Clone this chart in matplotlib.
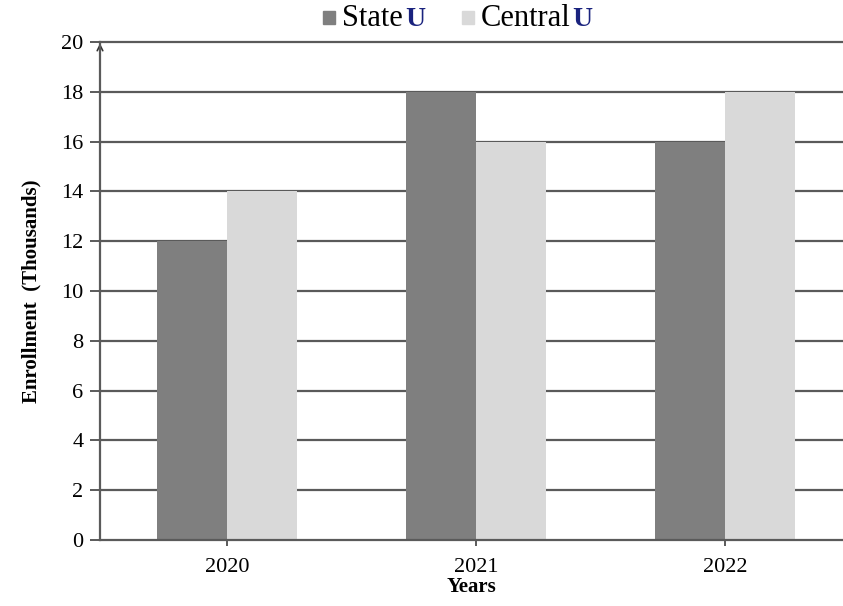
import matplotlib.pyplot as plt
import numpy as np
from matplotlib.patches import Rectangle

plt.rcParams['font.family'] = ['Liberation Serif', 'DejaVu Serif']

years = ['2020', '2021', '2022']
state_u = [12, 18, 16]
central_u = [14, 16, 18]
y_ticks = [0, 2, 4, 6, 8, 10, 12, 14, 16, 18, 20]

dark = '#7f7f7f'
light = '#d9d9d9'
grid_c = '#5a5a5a'

fig = plt.figure(figsize=(8.43, 6.06), dpi=100)
ax = fig.add_axes([100 / 843, 1 - 540 / 606, 743 / 843, 498 / 606])

x = np.arange(len(years))
w = 0.283
ax.bar(x - w / 2, state_u, w, color=dark, zorder=3)
ax.bar(x + w / 2, central_u, w, color=light, zorder=3)

for t in y_ticks[1:]:
    ax.axhline(t, color=grid_c, lw=1.6, zorder=1, clip_on=False)

ax.set_xlim(-0.51, 2.474)
ax.set_ylim(0, 20)
ax.set_yticks(y_ticks)
ax.set_xticks(x)
ax.set_xticklabels(years)
ax.tick_params(axis='y', length=7, width=1.4, color=grid_c, labelsize=16, pad=5)
ax.tick_params(axis='x', length=4, width=1.4, color=grid_c, labelsize=16, pad=9)

for s in ['top', 'right']:
    ax.spines[s].set_visible(False)
for s in ['left', 'bottom']:
    ax.spines[s].set_color(grid_c)
    ax.spines[s].set_linewidth(1.6)
    ax.spines[s].set_zorder(4)

# arrow heads
ax.plot([1], [0], marker=4, color=grid_c, ms=7, transform=ax.transAxes,
        clip_on=False, zorder=5)
ax.annotate('', xy=(0, 1.003), xytext=(0, 0.97), xycoords='axes fraction',
            arrowprops=dict(arrowstyle='->', color='#333333', lw=1.2))

ax.set_ylabel('Enrollment  (Thousands)', fontsize=15, fontweight='bold', labelpad=14)
ax.set_xlabel('Years', fontsize=15, fontweight='bold', labelpad=0)

# legend at top
fig.patches.append(Rectangle((323 / 843, 1 - 24 / 606), 12 / 843, 13 / 606,
                             transform=fig.transFigure, color=dark))
fig.text(342 / 843, 1 - 18 / 606, 'State', fontsize=22, va='center', ha='left')
fig.text(405 / 843, 1 - 20 / 606, 'U', fontsize=20, va='center', ha='left',
         fontweight='bold', color='#1a237e')
fig.patches.append(Rectangle((462 / 843, 1 - 24 / 606), 12 / 843, 13 / 606,
                             transform=fig.transFigure, color=light))
fig.text(481 / 843, 1 - 18 / 606, 'Central', fontsize=22, va='center', ha='left')
fig.text(572 / 843, 1 - 20 / 606, 'U', fontsize=20, va='center', ha='left',
         fontweight='bold', color='#1a237e')

fig.savefig('out.png', dpi=100)
